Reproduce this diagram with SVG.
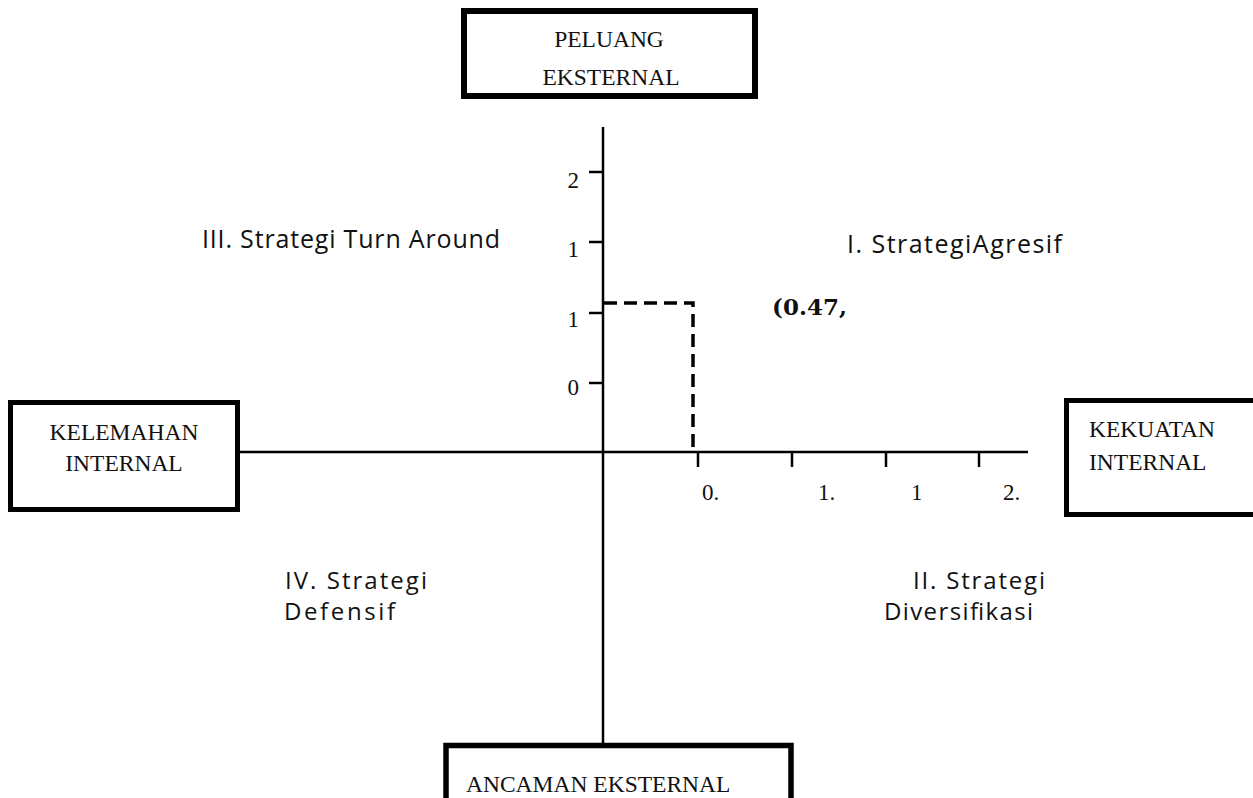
<svg xmlns="http://www.w3.org/2000/svg" width="1253" height="798" viewBox="0 0 1253 798">
<style>
.box{fill:#fff;stroke:#000;}
.ser{font-family:"Liberation Serif","Times New Roman",serif;font-size:23.5px;fill:#111;}
.num{font-family:"Liberation Serif","Times New Roman",serif;font-size:23px;fill:#111;}
.san{font-family:"Open Sans","Noto Sans",sans-serif;font-size:25px;fill:#111;}
.san2{font-family:"Open Sans","Noto Sans",sans-serif;font-size:24px;fill:#111;}
.bold{font-family:"DejaVu Serif","Liberation Serif",serif;font-weight:bold;font-size:23px;fill:#111;}
.ax{stroke:#000;stroke-width:2.5;fill:none;}
.dash{stroke:#000;stroke-width:3.5;stroke-dasharray:13 7;fill:none;}
</style>
<rect width="1253" height="798" fill="#fff"/>
<g id="connectors">
<line class="ax" x1="603" y1="127" x2="603" y2="745"/>
<line class="ax" x1="238" y1="452" x2="1028" y2="452"/>
<line class="ax" x1="589" y1="172" x2="603" y2="172"/>
<line class="ax" x1="589" y1="242" x2="603" y2="242"/>
<line class="ax" x1="589" y1="313" x2="603" y2="313"/>
<line class="ax" x1="589" y1="383" x2="603" y2="383"/>
<line class="ax" x1="698" y1="452" x2="698" y2="467"/>
<line class="ax" x1="792" y1="452" x2="792" y2="467"/>
<line class="ax" x1="886" y1="452" x2="886" y2="467"/>
<line class="ax" x1="979" y1="452" x2="979" y2="467"/>
<polyline class="dash" points="604,303 693,303 693,447"/>
</g>
<g id="axis-labels">
<text class="num" x="579" y="188" text-anchor="end">2</text>
<text class="num" x="579" y="257" text-anchor="end">1</text>
<text class="num" x="579" y="327" text-anchor="end">1</text>
<text class="num" x="579" y="395" text-anchor="end">0</text>
<text class="num" x="702" y="500">0.</text>
<text class="num" x="818" y="500">1.</text>
<text class="num" x="911" y="500">1</text>
<text class="num" x="1003" y="500">2.</text>
</g>
<g id="peluang">
<rect class="box" x="464" y="11" width="291" height="85" stroke-width="6"/>
<text class="ser" x="609" y="47" text-anchor="middle">PELUANG</text>
<text class="ser" x="611" y="85" text-anchor="middle">EKSTERNAL</text>
</g>
<g id="kelemahan">
<rect class="box" x="10.5" y="402.5" width="227" height="107" stroke-width="5"/>
<text class="ser" x="124" y="440" text-anchor="middle">KELEMAHAN</text>
<text class="ser" x="124" y="471" text-anchor="middle">INTERNAL</text>
</g>
<g id="kekuatan">
<rect class="box" x="1066.5" y="400.5" width="200" height="114" stroke-width="5"/>
<text class="ser" x="1089" y="437">KEKUATAN</text>
<text class="ser" x="1089" y="470">INTERNAL</text>
</g>
<g id="ancaman">
<rect class="box" x="446" y="745.5" width="345" height="80" stroke-width="5.5"/>
<text class="ser" x="466" y="792">ANCAMAN EKSTERNAL</text>
</g>
<g id="q3">
<text class="san" x="202" y="248" textLength="298">III. Strategi Turn Around</text>
</g>
<g id="q1">
<text class="san" x="847" y="253" textLength="215">I. StrategiAgresif</text>
</g>
<g id="point">
<text class="bold" x="772" y="315">(0.47,</text>
</g>
<g id="q4">
<text class="san2" x="285" y="589" textLength="142">IV. Strategi</text>
<text class="san2" x="284" y="620" textLength="111">Defensif</text>
</g>
<g id="q2">
<text class="san2" x="913" y="589" textLength="132">II. Strategi</text>
<text class="san2" x="884" y="620" textLength="149">Diversifikasi</text>
</g>
</svg>
